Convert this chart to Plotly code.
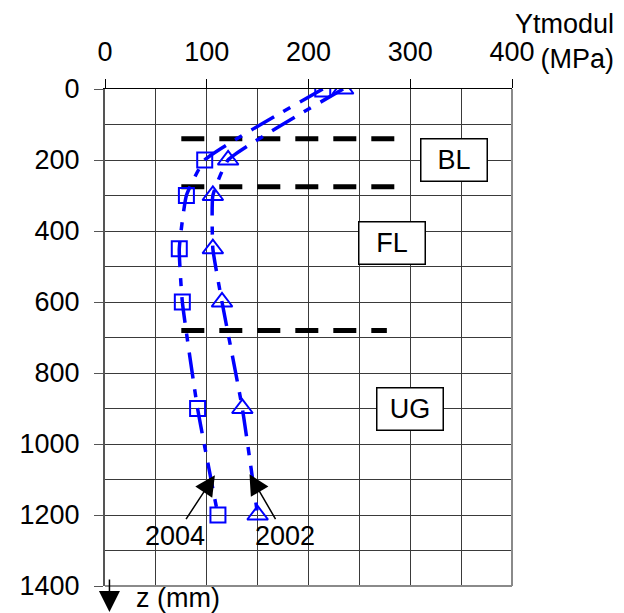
import plotly.graph_objects as go

# ---- data ----
depth = [0, 200, 300, 450, 600, 900, 1200]            # z (mm)
modulus_2004 = [214, 98, 80, 73, 76, 91, 111]          # MPa
modulus_2002 = [234, 121, 106, 106, 115, 135, 150]     # MPa

layer_depths = [140, 275, 680]                          # layer boundaries (mm)
layer_x_start = [75, 75, 75]
layer_x_end = [285, 285, 277]

layer_labels = ["BL", "FL", "UG"]
layer_label_x = [343, 282, 300]
layer_label_z = [200, 435, 900]

year_labels = ["2004", "2002"]
year_tip_x = [108, 142]
year_tip_z = [1088, 1085]
year_text_x = [69, 177]
year_text_z = [1258, 1258]

x_ticks = [0, 100, 200, 300, 400]
y_ticks = [0, 200, 400, 600, 800, 1000, 1200, 1400]

FONT = "Arial, Liberation Sans, sans-serif"
FS = 27
BLUE = "#0000FF"

fig = go.Figure()

# layer boundary dashed lines
for z, xs, xe in zip(layer_depths, layer_x_start, layer_x_end):
    fig.add_trace(go.Scatter(
        x=[xs, xe], y=[z, z], mode="lines",
        line=dict(color="black", width=5, dash="23px,15px"),
        showlegend=False, hoverinfo="skip"))

# measurement series
fig.add_trace(go.Scatter(
    x=modulus_2004, y=depth, mode="lines+markers", name="2004",
    line=dict(color=BLUE, width=3.5, dash="26px,11px,8px,11px", shape="spline", smoothing=0.4),
    marker=dict(symbol="square-open", size=15, color=BLUE, line=dict(width=2, color=BLUE)),
    showlegend=False))
fig.add_trace(go.Scatter(
    x=modulus_2002, y=depth, mode="lines+markers", name="2002",
    line=dict(color=BLUE, width=3.5, dash="26px,11px,8px,11px", shape="spline", smoothing=0.4),
    marker=dict(symbol="triangle-up-open", size=18, color=BLUE, line=dict(width=2, color=BLUE)),
    showlegend=False))

annotations = []
for lab, x, z in zip(layer_labels, layer_label_x, layer_label_z):
    annotations.append(dict(
        x=x, y=z, xref="x", yref="y", text=lab, showarrow=False,
        font=dict(family=FONT, size=FS, color="black"),
        bgcolor="white", bordercolor="black", borderwidth=1.5,
        borderpad=4, width=57, height=33, align="center", valign="middle"))

for lab, tx, tz, ax, az in zip(year_labels, year_tip_x, year_tip_z, year_text_x, year_text_z):
    annotations.append(dict(
        x=tx, y=tz, xref="x", yref="y", ax=ax, ay=az, axref="x", ayref="y",
        text=lab, showarrow=True, arrowhead=2, arrowsize=2.7, arrowwidth=1.5,
        arrowcolor="black", font=dict(family=FONT, size=FS, color="black")))

# axis titles
annotations.append(dict(
    x=(617 - 101) / 411, y=(587 - 7) / 498, xref="paper", yref="paper",
    xanchor="right", yanchor="top", align="right", showarrow=False,
    text="Ytmodul<br>(MPa)", font=dict(family=FONT, size=FS, color="black")))
annotations.append(dict(
    x=(130 - 101) / 411, y=(587 - 599) / 498, xref="paper", yref="paper",
    xanchor="left", yanchor="middle", showarrow=False,
    text="z (mm)", font=dict(family=FONT, size=FS, color="black")))
annotations.append(dict(
    x=(105.5 - 101) / 411, y=(587 - 613) / 498, xref="paper", yref="paper",
    ax=0, ay=-34, text="", showarrow=True, arrowhead=2, arrowsize=2.8,
    arrowwidth=1.5, arrowcolor="black"))

fig.update_layout(
    width=616, height=605,
    margin=dict(l=93, r=112, t=81, b=26),
    paper_bgcolor="white", plot_bgcolor="white",
    font=dict(family=FONT, size=FS, color="black"),
    annotations=annotations,
    shapes=[
        dict(type="line", xref="paper", yref="paper", x0=1, x1=1, y0=0, y1=1,
             line=dict(color="#8a8a8a", width=2)),
        dict(type="line", xref="paper", yref="paper", x0=0, x1=1, y0=0, y1=0,
             line=dict(color="#8a8a8a", width=2)),
    ],
)

fig.update_xaxes(
    side="top", range=[0, 400], autorange=False,
    tickmode="array", tickvals=x_ticks, ticktext=[str(v) for v in x_ticks],
    ticks="outside", ticklen=9, tickcolor="black", tickwidth=1,
    showline=True, linecolor="black", linewidth=1,
    showgrid=True, gridcolor="#3a3a3a", gridwidth=1, zeroline=False,
    minor=dict(dtick=50, tick0=0, showgrid=True, gridcolor="#3a3a3a", gridwidth=1, ticks=""),
    tickfont=dict(family=FONT, size=FS, color="black"),
    ticklabelstandoff=7,
)
fig.update_yaxes(
    range=[1400, 0], autorange=False,
    tickmode="array", tickvals=y_ticks, ticktext=[str(v) for v in y_ticks],
    ticks="outside", ticklen=9, tickcolor="#555", tickwidth=1,
    showline=True, linecolor="#555", linewidth=2,
    showgrid=True, gridcolor="#3a3a3a", gridwidth=1, zeroline=False,
    minor=dict(dtick=100, tick0=0, showgrid=True, gridcolor="#3a3a3a", gridwidth=1, ticks=""),
    tickfont=dict(family=FONT, size=FS, color="black"),
    ticklabelstandoff=9,
)

fig.write_html("out.html")
